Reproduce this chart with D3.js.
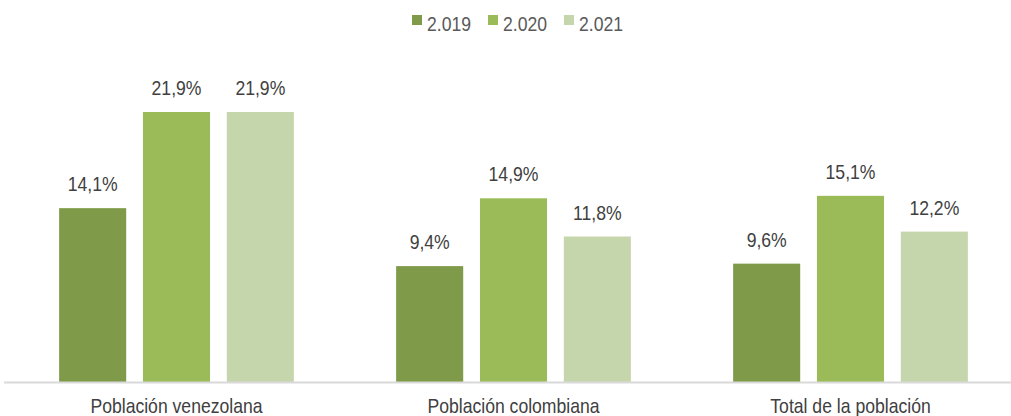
<!DOCTYPE html>
<html>
<head>
<meta charset="utf-8">
<script src="https://cdn.jsdelivr.net/npm/d3@7"></script>
<style>
  body { margin: 0; background: #ffffff; }
  svg { display: block; }
</style>
</head>
<body>
<div id="chart"></div>
<script>
const categories = ['Población venezolana', 'Población colombiana', 'Total de la población'];
const years = ['2.019', '2.020', '2.021'];
const values2019 = [14.1, 9.4, 9.6];
const values2020 = [21.9, 14.9, 15.1];
const values2021 = [21.9, 11.8, 12.2];
const colors = ['#7f9a48', '#9bbb59', '#c6d6ac'];

function whenDocumentLoaded(action) {
    if (document.readyState === "loading") {
        document.addEventListener("DOMContentLoaded", action);
    } else {
        action();
    }
}

function drawChart() {
    const width = 1011, height = 416;
    const baseY = 382;
    const fontFamily = '"Liberation Sans", Arial, sans-serif';
    const squeeze = 0.88;

    const series = [values2019, values2020, values2021];

    const svg = d3.select('#chart')
        .append('svg')
        .attr('width', width)
        .attr('height', height);

    const x0 = d3.scaleBand()
        .domain(categories)
        .range([8, 1019])
        .paddingInner(0)
        .paddingOuter(0);

    const x1 = d3.scaleBand()
        .domain(years)
        .range([0, x0.bandwidth()])
        .paddingInner(0.2)
        .paddingOuter(0.61);

    const y = d3.scaleLinear()
        .domain([0, 21.9])
        .range([baseY, 112]);

    // bars
    const groups = svg.append('g')
        .selectAll('g')
        .data(categories)
        .enter()
        .append('g')
        .attr('transform', d => 'translate(' + x0(d) + ',0)');

    groups.selectAll('rect')
        .data((d, i) => years.map((yr, k) => ({ year: yr, value: series[k][i], k: k })))
        .enter()
        .append('rect')
        .attr('x', d => x1(d.year))
        .attr('y', d => y(d.value))
        .attr('width', x1.bandwidth())
        .attr('height', d => baseY - y(d.value))
        .attr('fill', d => colors[d.k]);

    // value labels
    groups.selectAll('text')
        .data((d, i) => years.map((yr, k) => ({ year: yr, value: series[k][i], k: k })))
        .enter()
        .append('text')
        .attr('transform', d => 'translate(' + (x1(d.year) + x1.bandwidth() / 2) + ',' + (y(d.value) - 17) + ') scale(' + squeeze + ',1)')
        .attr('text-anchor', 'middle')
        .style('font-family', fontFamily)
        .style('font-size', '20px')
        .attr('fill', '#404040')
        .text(d => d3.format('.1f')(d.value).replace('.', ',') + '%');

    // baseline
    svg.append('line')
        .attr('x1', 4)
        .attr('x2', width)
        .attr('y1', baseY + 0.5)
        .attr('y2', baseY + 0.5)
        .attr('stroke', '#d9d9d9')
        .attr('stroke-width', 2);

    // category labels
    svg.append('g')
        .selectAll('text')
        .data(categories)
        .enter()
        .append('text')
        .attr('transform', d => 'translate(' + (x0(d) + x0.bandwidth() / 2) + ',413) scale(' + squeeze + ',1)')
        .attr('text-anchor', 'middle')
        .style('font-family', fontFamily)
        .style('font-size', '20px')
        .attr('fill', '#404040')
        .text(d => d);

    // legend
    const legendX = [412, 488, 564];
    const legend = svg.append('g')
        .selectAll('g')
        .data(years)
        .enter()
        .append('g')
        .attr('transform', (d, i) => 'translate(' + legendX[i] + ',0)');

    legend.append('rect')
        .attr('x', 0)
        .attr('y', 15)
        .attr('width', 10)
        .attr('height', 10)
        .attr('fill', (d, i) => colors[i]);

    legend.append('text')
        .attr('transform', 'translate(15,31) scale(' + squeeze + ',1)')
        .style('font-family', fontFamily)
        .style('font-size', '20px')
        .attr('fill', '#595959')
        .text(d => d);
}

whenDocumentLoaded(drawChart);
</script>
</body>
</html>
